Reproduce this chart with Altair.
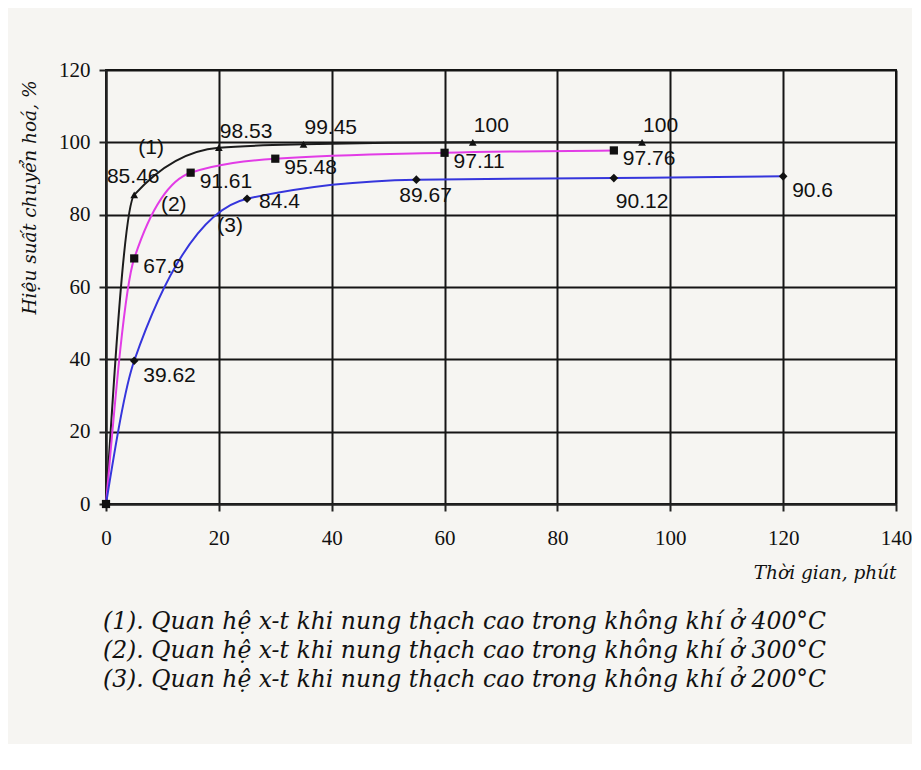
import altair as alt
import pandas as pd

# ---- data ----
t1 = [0, 5, 20, 35, 65, 95]
x1 = [0, 85.46, 98.53, 99.45, 100, 100]
t2 = [0, 5, 15, 30, 60, 90]
x2 = [0, 67.9, 91.61, 95.48, 97.11, 97.76]
t3 = [0, 5, 25, 55, 90, 120]
x3 = [0, 39.62, 84.4, 89.67, 90.12, 90.6]

series_names = ["1", "2", "3"]
curve_tags = ["(1)", "(2)", "(3)"]
tag_t = [8, 12, 22]
tag_x = [98.4, 82.7, 76.9]

x_ticks = [0, 20, 40, 60, 80, 100, 120, 140]
y_ticks = [0, 20, 40, 60, 80, 100, 120]

y_title = "Hiệu suất chuyển hoá, %"
x_title = "Thời gian, phút"
legend_lines = [
    "(1).  Quan hệ x-t khi nung thạch cao trong không khí ở 400°C",
    "(2).  Quan hệ x-t khi nung thạch cao trong không khí ở 300°C",
    "(3).  Quan hệ x-t khi nung thạch cao trong không khí ở 200°C",
]

rows = []
for name, ts, xs in zip(series_names, [t1, t2, t3], [x1, x2, x3]):
    for t, x in zip(ts, xs):
        rows.append({"s": name, "t": t, "x": x, "lab": "" if x == 0 else str(x)})
df = pd.DataFrame(rows)
tags = pd.DataFrame({"t": tag_t, "x": tag_x, "lab": curve_tags})

xs = alt.Scale(domain=[0, 140], nice=False)
ys = alt.Scale(domain=[0, 120], nice=False)

X = alt.X("t:Q", scale=xs, axis=alt.Axis(
    values=x_ticks, title=x_title, titleX=790, titleY=68, titleAlign="right",
    titleBaseline="middle", labelPadding=16, labelFlush=False, format="d"))
Y = alt.Y("x:Q", scale=ys, axis=alt.Axis(
    values=y_ticks, title=y_title, titleX=-77, titleY=10, titleAlign="right",
    titleBaseline="middle", labelPadding=9, labelFlush=False, format="d"))

base = alt.Chart(df)

lines = base.mark_line(interpolate="monotone", strokeWidth=2).encode(
    x=X, y=Y,
    color=alt.Color("s:N", scale=alt.Scale(domain=series_names,
                                           range=["#1c1c1c", "#e23ce6", "#3535dc"]),
                    legend=None),
)

points = base.mark_point(filled=True, opacity=1, color="#111").encode(
    x=X, y=Y,
    shape=alt.Shape("s:N", scale=alt.Scale(domain=series_names,
                                           range=["triangle-up", "square", "diamond"]),
                    legend=None),
    size=alt.Size("s:N", scale=alt.Scale(domain=series_names, range=[60, 75, 130]),
                  legend=None),
)

LAB_SIZE = 21


def labels(cond, dx, dy, align="left"):
    return base.transform_filter(cond).mark_text(
        font="Liberation Sans", fontSize=LAB_SIZE, color="#111", align=align,
        baseline="middle", dx=dx, dy=dy
    ).encode(x=X, y=Y, text="lab:N")


lab_layers = [
    labels("datum.s == '1' && datum.t > 5", 1, -16),
    labels("datum.s == '1' && datum.t == 5", -1, -18, "center"),
    labels("datum.s == '2' && datum.t > 0", 9, 9),
    labels("datum.s == '3' && (datum.t == 5 || datum.t == 120)", 9, 15),
    labels("datum.s == '3' && datum.t == 25", 12, 3),
    labels("datum.s == '3' && datum.t == 55", -17, 16),
    labels("datum.s == '3' && datum.t == 90", 2, 24),
]

tag_text = alt.Chart(tags).mark_text(
    font="Liberation Sans", fontSize=LAB_SIZE, color="#111", align="center", baseline="middle"
).encode(x=alt.X("t:Q", scale=xs), y=alt.Y("x:Q", scale=ys), text="lab:N")

chart = alt.layer(lines, points, *lab_layers, tag_text).properties(
    width=790, height=434,
    autosize=alt.AutoSizeParams(type="none"),
    padding={"left": 98, "top": 62, "right": 16, "bottom": 240},
    background="#f6f5f2",
    title=alt.TitleParams(
        text=legend_lines, orient="bottom", anchor="start", frame="group",
        font="DejaVu Serif", fontStyle="italic", fontWeight="normal",
        fontSize=23.5, color="#111", lineHeight=29, offset=28, dx=-3,
    ),
).configure_axis(
    labelFont="Liberation Serif", labelFontSize=21, labelColor="#111",
    titleFont="DejaVu Serif", titleFontStyle="italic", titleFontWeight="normal",
    titleColor="#111",
    domainColor="#222", domainWidth=2, tickColor="#222", tickWidth=2, tickSize=7,
    grid=True, gridColor="#151515", gridWidth=2, gridOpacity=1,
).configure_axisX(titleFontSize=18.5).configure_axisY(titleFontSize=18.5
).configure_view(stroke="#151515", strokeWidth=2)

chart.save("out.html", embed_options={"renderer": "svg", "actions": False})
